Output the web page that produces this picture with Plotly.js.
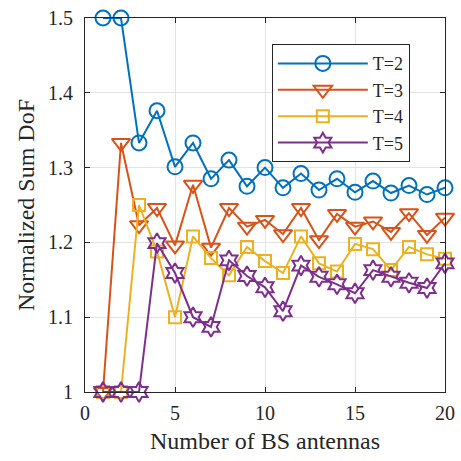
<!DOCTYPE html>
<html>
<head>
<meta charset="utf-8">
<script src="https://cdn.plot.ly/plotly-3.0.1.min.js"></script>
<style>html,body{margin:0;padding:0;background:#fff;}#chart{width:461px;height:461px;}</style>
</head>
<body>
<div id="chart"></div>
<script>
const antennas = [1,2,3,4,5,6,7,8,9,10,11,12,13,14,15,16,17,18,19,20];
const seriesNames = ["T=2","T=3","T=4","T=5"];
const dofT2 = [1.5,1.5,1.333,1.376,1.301,1.333,1.285,1.31,1.275,1.30,1.273,1.292,1.270,1.285,1.267,1.282,1.266,1.276,1.264,1.273];
const dofT3 = [1.0,1.333,1.223,1.246,1.196,1.277,1.193,1.246,1.221,1.230,1.211,1.246,1.203,1.238,1.221,1.228,1.214,1.239,1.210,1.233];
const dofT4 = [1.0,1.0,1.25,1.188,1.10,1.208,1.179,1.156,1.194,1.175,1.159,1.208,1.172,1.161,1.198,1.191,1.163,1.194,1.184,1.178];
const dofT5 = [1.0,1.0,1.0,1.199,1.159,1.10,1.087,1.176,1.155,1.14,1.108,1.169,1.154,1.144,1.132,1.163,1.154,1.146,1.139,1.172];
const xTicks = [0,5,10,15,20];
const yTicks = [1,1.1,1.2,1.3,1.4,1.5];

const colors = ["#0072BD","#D95319","#EDB120","#7E2F8E"];
const symbols = ["circle-open","triangle-down-open","square-open","hexagram-open"];
const sizes = [15,16,12,15];
const data = [dofT2,dofT3,dofT4,dofT5].map((ys,i)=>({
  x: antennas, y: ys, name: seriesNames[i], type: "scatter", mode: "lines+markers",
  line: {color: colors[i], width: 2},
  marker: {symbol: symbols[i], size: sizes[i], color: colors[i], line: {width: 2, color: colors[i]}},
  cliponaxis: false
}));

const font = {family: "Liberation Serif, Times New Roman, serif", color: "#262626"};
const layout = {
  width: 461, height: 461,
  margin: {l: 85, r: 16, t: 18, b: 69},
  paper_bgcolor: "#fff", plot_bgcolor: "#fff",
  font: Object.assign({size: 20}, font),
  showlegend: true,
  xaxis: {
    range: [0,20], tickvals: xTicks, ticktext: xTicks.map(String),
    ticks: "inside", ticklen: 5, tickcolor: "#262626", ticklabelstandoff: 3,
    showgrid: true, gridcolor: "#e3e3e3", gridwidth: 1,
    showline: true, linecolor: "#262626", linewidth: 1, mirror: "ticks",
    zeroline: false,
    tickfont: Object.assign({size: 20}, font),
    title: {text: "Number of BS antennas", font: Object.assign({size: 24}, font), standoff: 9}
  },
  yaxis: {
    range: [1,1.5], tickvals: yTicks, ticktext: yTicks.map(v=>String(v)),
    ticks: "inside", ticklen: 5, tickcolor: "#262626", ticklabelstandoff: 7,
    showgrid: true, gridcolor: "#e3e3e3", gridwidth: 1,
    showline: true, linecolor: "#262626", linewidth: 1, mirror: "ticks",
    zeroline: false,
    tickfont: Object.assign({size: 20}, font),
    title: {text: "Normalized Sum DoF", font: Object.assign({size: 24}, font), standoff: 6}
  },
  legend: {
    x: 0.519, y: 0.93, xanchor: "left", yanchor: "top",
    bgcolor: "#fff", bordercolor: "#262626", borderwidth: 1,
    font: Object.assign({size: 18}, font),
    itemwidth: 90, tracegroupgap: 0
  }
};
Plotly.newPlot("chart", data, layout, {staticPlot: true, displayModeBar: false});
</script>
</body>
</html>
